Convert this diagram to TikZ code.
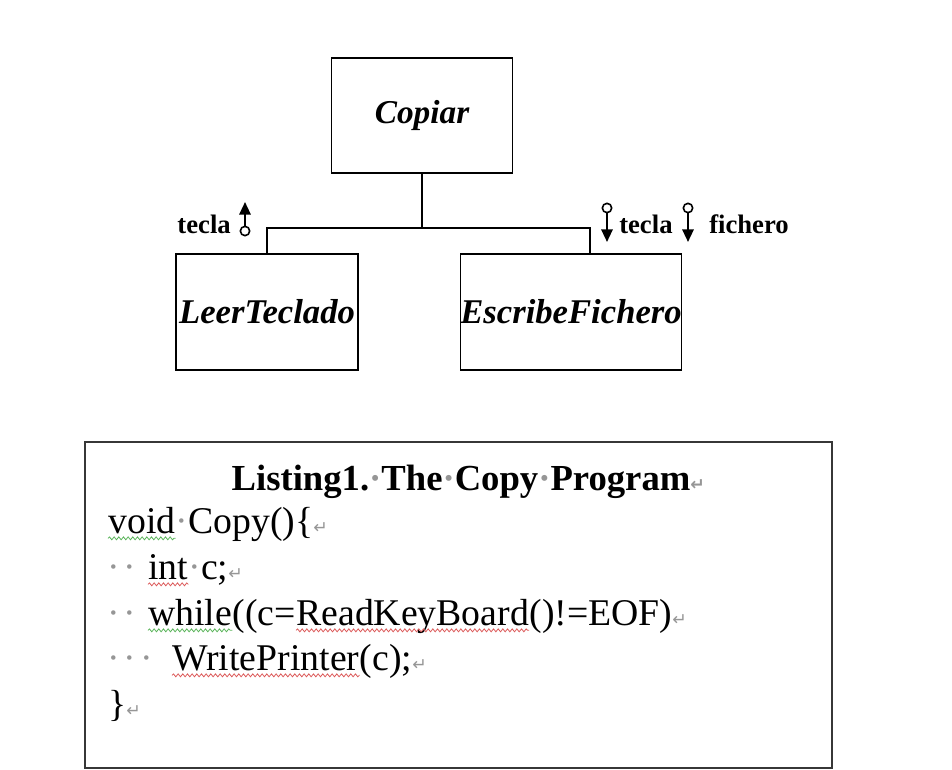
\documentclass[tikz,border=0pt]{standalone}
\usepackage{fontspec}
\setmainfont{Liberation Serif}
\newfontfamily\arrfont{DejaVu Sans}
\usetikzlibrary{arrows.meta,decorations.pathmorphing}
\definecolor{mkgray}{RGB}{150,150,150}
\definecolor{sqgreen}{RGB}{90,180,90}
\definecolor{sqred}{RGB}{220,90,90}
\definecolor{framegray}{RGB}{55,55,55}
\newcommand{\wmdot}{\textcolor{mkgray}{·}}
\newcommand{\wmret}{\textcolor{mkgray}{\arrfont\fontsize{13}{13}\selectfont ↵}}
\begin{document}
\begin{tikzpicture}[x=0.75pt,y=-0.75pt,
  box/.style={draw, line width=1.1pt, inner sep=0pt, font=\fontsize{26}{30}\selectfont\bfseries\itshape},
  conn/.style={line width=1.1pt},
  pinlbl/.style={font=\fontsize{20}{24}\selectfont\bfseries, inner sep=0pt},
  pinc/.style={circle, draw, line width=1.2pt, inner sep=0pt, minimum size=7pt},
  flow/.style={line width=1.6pt, -{Triangle[length=9.5pt,width=8.5pt]}},
  cd/.style={font=\fontsize{28.3}{32}\selectfont, inner sep=0pt, anchor=base west},
  dotm/.style={font=\fontsize{28.3}{32}\selectfont, inner sep=0pt, anchor=base, text=mkgray},
  sqg/.style={draw=sqgreen, line width=0.6pt, decorate, decoration={snake, amplitude=1.1pt, segment length=3.5pt}},
  sqr/.style={draw=sqred, line width=0.6pt, decorate, decoration={snake, amplitude=1.1pt, segment length=3.5pt}}
]
\useasboundingbox (0,0) rectangle (952,770);

% structure chart
\node[box, font=\fontsize{25}{30}\selectfont\bfseries\itshape, minimum width=135.75pt, minimum height=86.25pt] (copiar) at (422,115.5) {Copiar};
\node[box, minimum width=136.5pt, minimum height=87pt] (leer) at (267,312) {LeerTeclado};
\node[box, minimum width=165pt, minimum height=87pt] (escribe) at (571,312) {EscribeFichero};
\coordinate (j) at (422,228);
\coordinate (er) at (590,228);
\draw[conn] (copiar.south) -- (j);
\draw[conn] (leer.north) |- (er) -- (escribe.north -| er);

% data couples
\node[pinc] (c1) at (245,231) {};
\coordinate (t1) at (245,202);
\draw[flow] (c1.north) -- (t1);
\node[pinlbl, anchor=base east] (l1) at (231,233) {tecla};

\node[pinc] (c2) at (607,208) {};
\coordinate (t2) at (607,242);
\draw[flow] (c2.south) -- (t2);
\node[pinlbl, anchor=base west] (l2) at (619,233) {tecla};

\node[pinc] (c3) at (688,208) {};
\coordinate (t3) at (688,242);
\draw[flow] (c3.south) -- (t3);
\node[pinlbl, anchor=base west] (l3) at (709,233) {fichero};

% listing
\node[draw=framegray, line width=1.8pt, minimum width=560.25pt, minimum height=244.5pt] (listing) at (458.5,605) {};
\node[font=\fontsize{27.5}{32}\selectfont\bfseries, inner sep=0pt, anchor=base] (title) at (461,490)
  {Listing1.\wmdot The\wmdot Copy\wmdot Program\rlap{\wmret}};

% line 1
\node[cd] (v1) at (108,533) {void};
\node[cd] (v2) at (v1.base east) {\wmdot Copy()\{\wmret};
\draw[sqg] ([yshift=-4pt]v1.base west) -- ([yshift=-4pt]v1.base east);

% line 2
\node[dotm] (d21) at (114,579) {·};
\node[dotm] (d22) at (130,579) {·};
\node[cd] (i1) at (148,579) {int};
\node[cd] (i2) at (i1.base east) {\wmdot c;\wmret};
\draw[sqr] ([yshift=-4pt]i1.base west) -- ([yshift=-4pt]i1.base east);

% line 3
\node[dotm] (d31) at (114,625) {·};
\node[dotm] (d32) at (130,625) {·};
\node[cd] (w1) at (148,625) {while};
\node[cd] (w2) at (w1.base east) {((c=};
\node[cd] (w3) at (w2.base east) {ReadKeyBoard};
\node[cd] (w4) at (w3.base east) {()!=EOF)\wmret};
\draw[sqg] ([yshift=-4pt]w1.base west) -- ([yshift=-4pt]w1.base east);
\draw[sqr] ([yshift=-4pt]w3.base west) -- ([yshift=-4pt]w3.base east);

% line 4
\node[dotm] (d41) at (114,670) {·};
\node[dotm] (d42) at (130,670) {·};
\node[dotm] (d43) at (147,670) {·};
\node[cd] (p1) at (172,670) {WritePrinter};
\node[cd] (p2) at (p1.base east) {(c);\wmret};
\draw[sqr] ([yshift=-4pt]p1.base west) -- ([yshift=-4pt]p1.base east);

% line 5
\node[cd] (b1) at (108,716) {\}\wmret};
\end{tikzpicture}
\end{document}
